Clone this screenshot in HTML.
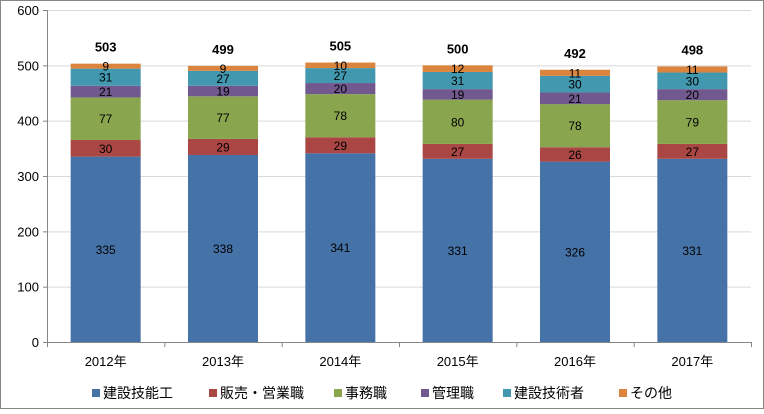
<!DOCTYPE html>
<html><head><meta charset="utf-8"><style>
body{margin:0;background:#fff}
svg text{font-family:"Liberation Sans","Noto Sans CJK JP",sans-serif}
</style></head><body>
<svg id="chart" width="764" height="409">
<rect x="0.5" y="0.5" width="763" height="408" fill="#fff" stroke="#868686"/>
<g id="grid"></g><g id="bars"></g><g id="axes"></g><g id="legend"></g>
</svg>
<script>
const categories=["2012年","2013年","2014年","2015年","2016年","2017年"];
const seriesNames=["建設技能工","販売・営業職","事務職","管理職","建設技術者","その他"];
const s1=[335,338,341,331,326,331];
const s2=[30,29,29,27,26,27];
const s3=[77,77,78,80,78,79];
const s4=[21,19,20,19,21,20];
const s5=[31,27,27,31,30,30];
const s6=[9,9,10,12,11,11];
const totals=[503,499,505,500,492,498];
const yTicks=[0,100,200,300,400,500,600];
const colors=["#4572A7","#AA4643","#89A54E","#71588F","#4198AF","#DB843D"];
const series=[s1,s2,s3,s4,s5,s6];
const NS="http://www.w3.org/2000/svg";
const x0=47,x1=751,yB=342,yT=10,yMax=600;
const bw=(x1-x0)/categories.length, barW=70;
const y=v=>yB-(v/yMax)*(yB-yT);
const xc=i=>x0+bw*(i+0.5);
function mk(tag,attrs,parent,text){const e=document.createElementNS(NS,tag);for(const k in attrs)e.setAttribute(k,attrs[k]);if(text!==undefined)e.textContent=text;parent.appendChild(e);return e;}
const grid=document.getElementById('grid'),bars=document.getElementById('bars'),axes=document.getElementById('axes'),legend=document.getElementById('legend');
yTicks.forEach(t=>{
 const l=mk('line',{x1:x0,x2:x1,y1:y(t)+0.5,y2:y(t)+0.5,stroke:t===0?'#868686':'#d9d9d9'},grid);
 
 
 const tx=mk('text',{x:x0-8,y:y(t)+5,'text-anchor':'end','font-size':13,fill:'#000'},axes,String(t));
 
 
 mk('line',{x1:x0-4,x2:x0,y1:y(t)+0.5,y2:y(t)+0.5,stroke:'#868686'},axes);
});
mk('line',{x1:x0+0.5,x2:x0+0.5,y1:yT,y2:yB,stroke:'#868686'},axes);
for(let i=0;i<=categories.length;i++)mk('line',{x1:x0+bw*i+0.5,x2:x0+bw*i+0.5,y1:yB,y2:yB+5,stroke:'#868686'},axes);
categories.forEach((c,i)=>{
 let cum=0;
 series.forEach((s,k)=>{
  const v=s[i];
  const r=mk('rect',{x:xc(i)-barW/2,y:y(cum+v),width:barW,height:y(cum)-y(cum+v),fill:colors[k]},bars);
  
  
  const t=mk('text',{x:xc(i),y:y(cum+v/2)+4.5,'text-anchor':'middle','font-size':12,fill:'#000'},bars,String(v));
  
  
  cum+=v;
 });
 const tt=mk('text',{x:xc(i),y:y(totals[i])-12,'text-anchor':'middle','font-size':13,'font-weight':'bold',fill:'#000'},bars,String(totals[i]));
 
 
 const xl=mk('text',{x:xc(i),y:366,'text-anchor':'middle','font-size':13,fill:'#000'},axes,c);
 
 
});
const lx=[92,209,334,421,503,619];
seriesNames.forEach((n,k)=>{
 const r=mk('rect',{x:lx[k],y:389,width:8,height:8,fill:colors[k]},legend);
 
 
 const t=mk('text',{x:lx[k]+11,y:398,'font-size':14,fill:'#000'},legend,n);
 
 
});
</script>
</body></html>
